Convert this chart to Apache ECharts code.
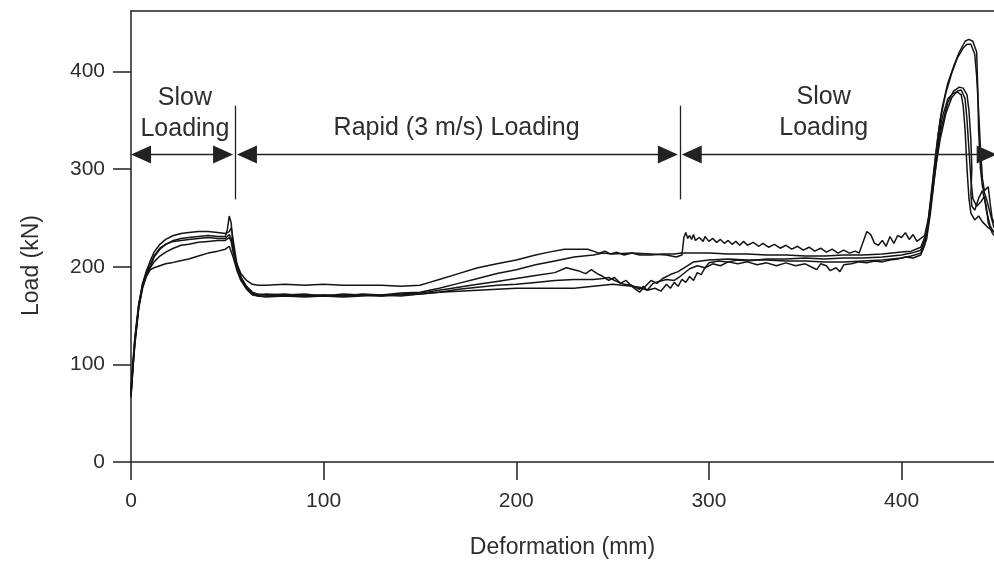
<!DOCTYPE html>
<html>
<head>
<meta charset="utf-8">
<script src="https://cdn.jsdelivr.net/npm/echarts@6/dist/echarts.min.js"></script>
<style>
html,body{margin:0;padding:0;background:#fff;}
#chart{width:994px;height:565px;}
</style>
</head>
<body>
<div id="chart"></div>
<script>
// ---- Data ----
const xTicks = [0, 100, 200, 300, 400];
const yTicks = [0, 100, 200, 300, 400];
const xRange = [0, 448];
const yRange = [0, 462];

const test1 = [[0,72],[1,100],[2,125],[4,160],[6,183],[8,196],[10,206],[12,215],[15,223],[18,228],[22,232],[26,234],[30,235],[35,236],[40,236],[45,235],[49,234],[51,236],[52,240],[53,228],[54,215],[55,203],[57,193],[60,186],[63,182],[66,181],[70,181],[80,182],[90,181],[100,182],[110,181],[120,181],[130,181],[140,180],[150,181],[155,184],[160,187],[170,193],[180,199],[190,203],[200,207],[210,212],[217,215],[225,218],[232,218],[237,218],[240,216],[243,214],[246,216],[249,213],[252,215],[256,212],[260,214],[264,212],[270,212],[276,213],[282,213],[286,214],[290,214],[300,214],[310,213],[320,213],[330,212],[340,212],[350,211],[360,211],[370,212],[380,212],[390,213],[400,215],[405,216],[410,220],[413,235],[415,265],[417,300],[419,335],[421,362],[424,388],[427,405],[430,420],[433,431],[435,433],[437,431],[439,420],[439.6,380],[440,340],[441,300],[442,282],[444,270],[446,255],[448,240]];

const test2 = [[0,68],[1,95],[2,120],[4,157],[6,180],[8,193],[10,200],[12,210],[15,218],[18,223],[22,227],[26,229],[30,230],[35,231],[40,232],[45,231],[49,231],[50,238],[51,252],[52,245],[53,222],[54,208],[56,195],[58,185],[60,178],[63,172],[66,170],[70,170],[80,171],[90,170],[100,171],[110,170],[120,172],[130,171],[140,173],[150,174],[160,178],[170,183],[180,188],[190,193],[200,197],[210,202],[220,206],[230,210],[240,212],[245,214],[250,213],[260,214],[270,213],[278,212],[283,210],[286,212],[287,230],[288,235],[289,229],[290,232],[291,228],[292,233],[293,227],[295,230],[297,226],[298,231],[300,226],[302,229],[304,225],[306,228],[308,224],[310,227],[312,223],[314,226],[316,222],[318,226],[320,222],[323,225],[326,221],[328,224],[331,220],[334,223],[337,219],[340,222],[343,218],[346,221],[349,217],[352,220],[355,216],[358,219],[361,215],[364,218],[367,214],[370,217],[373,214],[376,216],[378,214],[380,225],[382,236],[384,233],[386,224],[388,222],[390,227],[392,221],[394,231],[396,224],[398,232],[400,230],[402,235],[404,228],[406,233],[408,226],[410,229],[412,232],[414,250],[416,285],[418,320],[420,350],[423,378],[426,398],[429,414],[432,424],[434,428],[436,428],[438,418],[439,395],[440,360],[441,320],[442,290],[443,278],[445,282],[446,265],[447,250],[448,245]];

const test3 = [[0,75],[1,102],[2,128],[4,162],[6,182],[8,192],[10,199],[12,205],[15,211],[18,215],[22,219],[26,222],[30,223],[35,225],[40,226],[45,227],[49,227],[51,230],[52,226],[53,215],[55,200],[57,188],[60,178],[63,173],[66,171],[70,172],[80,171],[90,172],[100,170],[110,172],[120,171],[130,170],[140,172],[150,173],[160,176],[170,179],[180,182],[190,185],[200,188],[210,191],[220,194],[226,199],[232,196],[236,193],[239,197],[242,193],[245,190],[248,186],[251,189],[254,183],[257,186],[260,180],[264,174],[267,180],[270,186],[273,183],[276,188],[280,192],[284,195],[288,200],[292,205],[296,206],[300,207],[310,208],[320,207],[330,207],[340,206],[350,206],[360,205],[370,205],[380,206],[390,207],[400,209],[405,211],[410,214],[413,228],[415,255],[417,290],[419,322],[421,345],[424,368],[427,380],[430,384],[432,383],[434,376],[435,360],[436,330],[436.5,300],[436,275],[436.5,262],[438,258],[440,270],[442,278],[443,276],[444,262],[445,245],[447,235],[448,232]];

const test4 = [[0,70],[1,98],[2,122],[4,158],[6,178],[8,190],[10,197],[12,199],[15,201],[18,203],[21,204],[25,206],[30,208],[35,211],[40,214],[45,216],[49,218],[51,221],[52,219],[53,210],[55,196],[57,186],[60,177],[63,171],[66,170],[70,169],[80,170],[90,169],[100,170],[110,169],[120,170],[130,171],[140,170],[150,172],[160,174],[170,177],[180,179],[190,181],[200,182],[210,184],[220,186],[230,187],[236,187],[240,187],[245,188],[248,189],[252,185],[256,182],[260,181],[264,177],[266,180],[268,176],[271,183],[274,185],[278,187],[282,186],[285,190],[290,198],[294,201],[298,199],[302,203],[306,201],[310,205],[315,203],[320,205],[325,202],[330,204],[335,201],[340,204],[345,201],[350,203],[354,199],[356,197],[358,203],[361,201],[363,196],[366,199],[368,195],[370,202],[374,203],[378,205],[382,204],[386,206],[390,205],[394,207],[398,208],[402,210],[406,209],[410,212],[412,222],[414,245],[416,275],[418,305],[420,330],[423,357],[426,373],[429,380],[431,381],[433,372],[434,350],[435,320],[436,290],[437,270],[439,262],[441,266],[443,272],[444,258],[446,242],[448,235]];

const test5 = [[0,66],[1,96],[2,124],[4,160],[6,181],[8,194],[10,202],[12,211],[15,219],[18,223],[22,226],[26,227],[30,228],[35,229],[40,230],[45,229],[49,229],[51,233],[52,229],[53,218],[55,202],[57,190],[60,180],[63,174],[66,172],[70,171],[80,172],[90,170],[100,171],[110,170],[120,171],[130,170],[140,171],[150,172],[160,174],[170,175],[180,176],[190,177],[200,178],[210,178],[220,178],[230,178],[235,179],[240,180],[245,181],[250,182],[255,181],[260,180],[264,179],[268,176],[272,178],[275,175],[278,182],[280,178],[282,184],[284,180],[286,187],[288,184],[290,190],[292,186],[294,194],[296,192],[298,199],[300,204],[305,206],[310,205],[315,207],[320,206],[330,208],[340,208],[350,209],[360,208],[370,209],[380,209],[390,210],[400,212],[405,214],[410,217],[413,232],[415,262],[417,295],[419,328],[421,352],[424,372],[427,378],[429,379],[431,376],[432,365],[433,340],[434,300],[435,270],[436,255],[438,248],[440,252],[442,246],[445,240],[448,236]];

// Annotation positions in data units
const phaseArrowY = 315;
const phaseArrows = [[5.2, 47.8], [60.2, 278.7], [291.1, 444.2]];
const phaseBoundaries = [54, 285];
const boundarySpan = [269, 365];
const phaseLabels = [
  {text: 'Slow\nLoading', x: 28, y: 357},
  {text: 'Rapid (3 m/s) Loading', x: 169, y: 342},
  {text: 'Slow\nLoading', x: 359.6, y: 358}
];

// ---- Chart ----
const FONT = 'Liberation Sans';
const INK = '#141414';
const TXT = '#2e2e2e';

const chart = echarts.init(document.getElementById('chart'), null, {renderer: 'canvas'});

const curveSeries = [test1, test2, test3, test4, test5].map((d, i) => ({
  type: 'line',
  name: 'Test ' + (i + 1),
  data: d,
  showSymbol: false,
  symbol: 'none',
  smooth: false,
  silent: true,
  lineStyle: {color: INK, width: 1.5},
  clip: true,
  z: 3
}));

const markLines = [];
phaseArrows.forEach(a => {
  markLines.push([{coord: [a[0], phaseArrowY]}, {coord: [a[1], phaseArrowY]}]);
});
phaseBoundaries.forEach(x => {
  markLines.push([
    {coord: [x, boundarySpan[0]], symbol: 'none'},
    {coord: [x, boundarySpan[1]], symbol: 'none'}
  ]);
});

curveSeries[0].markLine = {
  silent: true,
  animation: false,
  symbol: ['triangle', 'triangle'],
  symbolSize: [18, 20],
  label: {show: false},
  lineStyle: {color: '#222', width: 1.3, type: 'solid'},
  emphasis: {disabled: true},
  data: markLines
};
curveSeries[0].markPoint = {
  silent: true,
  animation: false,
  symbol: 'circle',
  symbolSize: 1,
  itemStyle: {color: 'rgba(0,0,0,0)'},
  label: {
    show: true,
    position: 'inside',
    formatter: p => p.name,
    fontFamily: FONT,
    fontSize: 25,
    lineHeight: 31,
    color: TXT,
    align: 'center',
    verticalAlign: 'middle'
  },
  data: phaseLabels.map(l => ({name: l.text, coord: [l.x, l.y]}))
};

const axisLineStyle = {color: '#222', width: 1.5};

chart.setOption({
  animation: false,
  backgroundColor: '#ffffff',
  grid: {left: 131, right: 0, top: 11, bottom: 103, containLabel: false},
  xAxis: [{
    type: 'value',
    min: xRange[0], max: xRange[1],
    interval: 100,
    name: 'Deformation (mm)',
    nameLocation: 'middle',
    nameGap: 74,
    nameTextStyle: {fontFamily: FONT, fontSize: 23, color: TXT},
    axisLine: {show: true, onZero: false, lineStyle: axisLineStyle},
    axisTick: {show: true, length: 18, lineStyle: axisLineStyle, customValues: xTicks},
    axisLabel: {show: true, margin: 29, fontFamily: FONT, fontSize: 21, color: TXT, customValues: xTicks},
    splitLine: {show: false}
  }, {
    type: 'value',
    position: 'top',
    min: xRange[0], max: xRange[1],
    axisLine: {show: true, onZero: false, lineStyle: axisLineStyle},
    axisTick: {show: false},
    axisLabel: {show: false},
    splitLine: {show: false}
  }],
  yAxis: {
    type: 'value',
    min: yRange[0], max: yRange[1],
    interval: 100,
    name: 'Load (kN)',
    nameLocation: 'middle',
    nameGap: 88,
    nameRotate: 90,
    nameTextStyle: {fontFamily: FONT, fontSize: 23, color: TXT, padding: [0, 58, 0, 0]},
    axisLine: {show: true, onZero: false, lineStyle: axisLineStyle},
    axisTick: {show: true, length: 18, lineStyle: axisLineStyle, customValues: yTicks},
    axisLabel: {show: true, margin: 26, fontFamily: FONT, fontSize: 21, color: TXT, customValues: yTicks},
    splitLine: {show: false}
  },
  series: curveSeries
});
</script>
</body>
</html>
